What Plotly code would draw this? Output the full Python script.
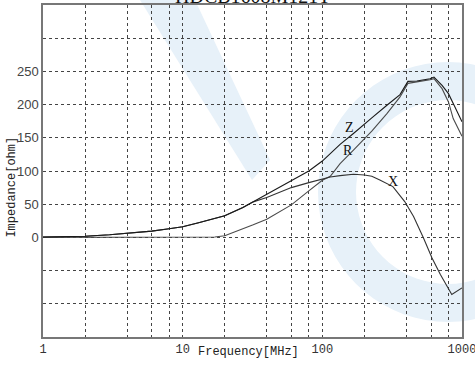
import numpy as np
import plotly.graph_objects as go

# ---- data ----
freq_z = [1, 2, 3, 4, 6, 8, 10, 13, 20, 27, 32, 40, 60, 80, 100, 114, 134, 167, 200, 226, 290, 360, 410, 475, 590, 630, 720, 800, 890, 1000]
z_vals = [0.5, 1.8, 4, 6, 9.5, 13, 16, 22, 32.5, 45, 53.5, 65, 86, 100, 115, 126, 140, 156.5, 171, 180, 199, 215, 235, 235.5, 239, 241.5, 229, 216.5, 196.5, 174]

freq_r = [1, 2, 4, 8, 13, 17, 20, 27, 32, 40, 60, 80, 100, 114, 134, 167, 200, 226, 290, 360, 410, 475, 590, 630, 720, 800, 865, 1000]
r_vals = [0, 0, 0, 0, 0, 0.5, 2.5, 12.5, 19, 27.5, 49, 70, 86, 92, 111, 131.5, 149, 160, 186.5, 211.5, 232, 234, 237.5, 239, 224, 204, 179, 152.5]

freq_x = [1, 2, 3, 4, 6, 8, 10, 13, 20, 27, 32, 40, 60, 80, 100, 114, 134, 167, 200, 226, 258, 320, 389, 450, 530, 610, 700, 780, 845, 1000]
x_vals = [0.5, 1.8, 4, 6, 9.5, 13, 16, 22, 32.5, 45, 53.5, 60, 75, 82.5, 87.5, 91, 93, 95, 94, 92, 86.5, 76.5, 54, 31.5, -1, -31, -56, -73.5, -86, -76]

x_grid = [1, 2, 4, 6, 8, 10, 20, 40, 60, 80, 100, 200, 400, 600, 800, 1000]
x_labels = ["1", "", "", "", "", "10", "", "", "", "", "100", "", "", "", "", "1000"]
y_grid = [-150, -100, -50, 0, 50, 100, 150, 200, 250, 300, 350]
y_labels = ["", "", "", "0", "50", "100", "150", "200", "250", "", ""]

curve_labels = ["Z", "R", "X"]
label_freq = [156, 153, 321]
label_val = [166, 131.5, 83.5]

title_text = "HDCB1608M121T"

W, H = 475, 378
ML, MR, MT, MB = 43, 13, 5, 41
PW, PH = W - ML - MR, H - MT - MB


def to_paper(px, py):
    return (px - ML) / PW, (H - MB - py) / PH


def poly_path(points):
    pts = [to_paper(px, py) for px, py in points]
    return "M " + " L ".join(f"{x:.4f},{y:.4f}" for x, y in pts) + " Z"


# faint watermark (decoration)
ang = np.linspace(0, 2 * np.pi, 73)
cx, cy, r_out, r_in = 448, 192, 130, 92
outer = [(cx + r_out * np.cos(a), cy - r_out * np.sin(a)) for a in ang]
inner = [(cx + r_in * np.cos(a), cy + r_in * np.sin(a)) for a in ang]
ring_path = poly_path(outer) + " " + poly_path(inner)
band_path = poly_path([(140, 0), (195, 0), (270, 160), (252, 180)])

fig = go.Figure()
fig.add_trace(go.Scatter(x=freq_r, y=r_vals, mode="lines", line=dict(color="#4a4a4a", width=1.1), name="R"))
fig.add_trace(go.Scatter(x=freq_x, y=x_vals, mode="lines", line=dict(color="#333333", width=1.1), name="X"))
fig.add_trace(go.Scatter(x=freq_z, y=z_vals, mode="lines", line=dict(color="#1a1a1a", width=1.1), name="Z"))

for p in (ring_path, band_path):
    fig.add_shape(type="path", path=p, xref="paper", yref="paper", layer="below",
                  fillcolor="#e7f1f9", line=dict(width=0))

for t, f, v in zip(curve_labels, label_freq, label_val):
    fig.add_annotation(x=np.log10(f), y=v, text=t, showarrow=False,
                       font=dict(family="Liberation Serif", size=14, color="#111"))

fig.add_annotation(xref="paper", yref="paper", x=0.5, y=1, yanchor="bottom", yshift=-4,
                   text=title_text, showarrow=False,
                   font=dict(family="Liberation Serif", size=20, color="#111"))
fig.add_annotation(xref="paper", yref="paper", x=0.49, y=0, yanchor="top", yshift=-6,
                   text="Frequency[MHz]", showarrow=False,
                   font=dict(family="Liberation Mono", size=12, color="#222"))
fig.add_annotation(xref="paper", yref="paper", x=0, xanchor="center", xshift=-31, y=0.45,
                   text="Impedance[ohm]", textangle=-90, showarrow=False,
                   font=dict(family="Liberation Mono", size=12, color="#222"))

fig.update_layout(
    width=W, height=H,
    margin=dict(l=ML, r=MR, t=MT, b=MB),
    paper_bgcolor="white", plot_bgcolor="white",
    showlegend=False,
)
fig.update_xaxes(type="log", range=[0, 3], tickmode="array", tickvals=x_grid, ticktext=x_labels,
                 showgrid=True, gridcolor="#444", griddash="dot", gridwidth=1,
                 showline=True, linecolor="#777", linewidth=1.5, mirror=True,
                 ticks="", zeroline=False, automargin=False, ticklabeloverflow="allow",
                 tickfont=dict(family="Liberation Mono", size=12, color="#333"))
fig.update_yaxes(range=[-150, 350], tickmode="array", tickvals=y_grid, ticktext=y_labels,
                 showgrid=True, gridcolor="#444", griddash="dot", gridwidth=1,
                 showline=True, linecolor="#777", linewidth=1.5, mirror=True,
                 ticks="", zeroline=False, automargin=False,
                 tickfont=dict(family="Liberation Sans", size=13, color="#444"))

fig.write_html("out.html", config={"displayModeBar": False},
               post_script="document.body.style.margin='0';")
